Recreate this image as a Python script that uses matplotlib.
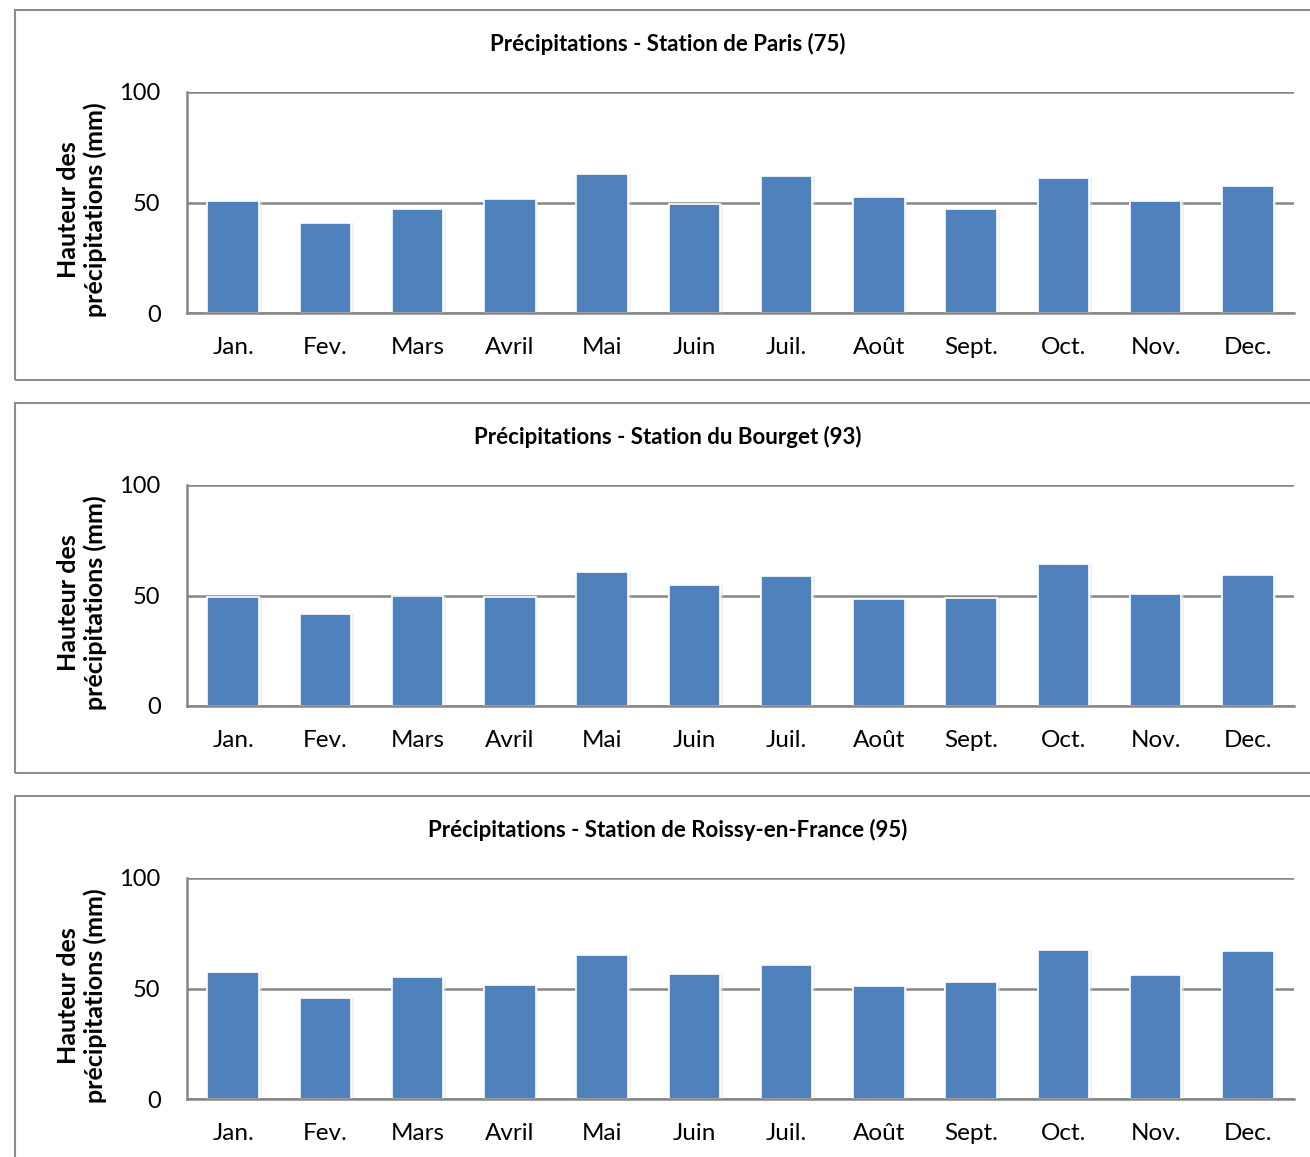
import numpy as np
import matplotlib.pyplot as plt
from matplotlib.patches import Rectangle

plt.rcParams['font.family'] = ['Lato', 'DejaVu Sans']

mois = ['Jan.', 'Fev.', 'Mars', 'Avril', 'Mai', 'Juin', 'Juil.', 'Août', 'Sept.', 'Oct.', 'Nov.', 'Dec.']

paris = [50.7, 40.7, 47.0, 51.6, 62.9, 49.3, 62.0, 52.5, 47.0, 61.0, 50.7, 57.5]
bourget = [49.3, 41.6, 49.8, 49.3, 60.6, 54.8, 58.8, 48.4, 48.9, 64.3, 50.7, 59.3]
roissy = [57.5, 45.7, 55.2, 51.6, 65.2, 56.6, 60.6, 51.1, 52.9, 67.4, 56.1, 67.0]

titres = ['Précipitations - Station de Paris (75)',
          'Précipitations - Station du Bourget (93)',
          'Précipitations - Station de Roissy-en-France (95)']
series = [paris, bourget, roissy]

W, H = 1310.0, 1157.0
fig = plt.figure(figsize=(W / 100, H / 100), dpi=100)

gris = '#868686'
bleu = '#4F81BD'
x = np.arange(len(mois))

for k in range(3):
    dy = 393 * k

    # cadre du graphique
    top = 10 + dy
    bot = 380 + dy
    fig.patches.append(Rectangle((15 / W, 1 - bot / H), (1400 - 15) / W, (bot - top) / H,
                                 transform=fig.transFigure, fill=False,
                                 edgecolor='#8c8c8c', linewidth=1.5))

    ax = fig.add_axes([187 / W, 1 - (313 + dy) / H, (1294 - 187) / W, 221 / H])
    # ombre legere
    ax.bar(x + 0.01, series[k], width=0.6, color='#e6e6e6', alpha=0.5, zorder=2)
    ax.bar(x, series[k], width=0.56, color=bleu, edgecolor='white', linewidth=1.2, zorder=3)

    ax.set_xlim(-0.5, 11.5)
    ax.set_ylim(0, 100)
    ax.set_yticks([0, 50, 100])
    ax.set_xticks(x)
    ax.set_xticklabels(mois)
    ax.yaxis.grid(True, color=gris, linewidth=1.8, zorder=1)
    ax.set_axisbelow(True)
    ax.spines['right'].set_visible(False)
    ax.spines['top'].set_visible(False)
    ax.spines['left'].set_color(gris)
    ax.spines['bottom'].set_color(gris)
    ax.spines['left'].set_linewidth(1.8)
    ax.spines['bottom'].set_linewidth(1.8)
    ax.spines['bottom'].set_zorder(4)
    ax.tick_params(axis='y', length=0, pad=19, labelsize=17)
    ax.tick_params(axis='x', length=0, pad=17, labelsize=17.5)

    fig.text(668 / W, 1 - (44 + dy) / H, titres[k], ha='center', va='center',
             fontsize=16, fontweight='bold')
    fig.text(82 / W, 1 - (210 + dy) / H, 'Hauteur des\nprécipitations (mm)',
             rotation=90, ha='center', va='center', multialignment='center',
             fontsize=18, fontweight='bold', linespacing=1.2)

fig.savefig('out.png', dpi=100)
